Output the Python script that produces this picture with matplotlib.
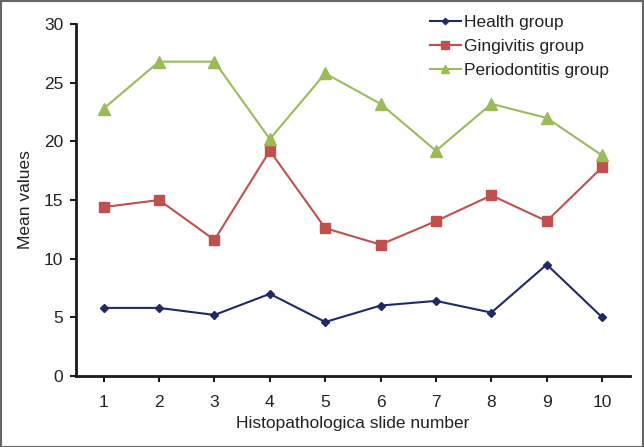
import matplotlib
matplotlib.use("Agg")
import matplotlib.pyplot as plt
from matplotlib.patches import Rectangle

plt.rcParams['font.family'] = ['Liberation Sans', 'DejaVu Sans']

slides = [1, 2, 3, 4, 5, 6, 7, 8, 9, 10]
health = [5.8, 5.8, 5.2, 7.0, 4.6, 6.0, 6.4, 5.4, 9.5, 5.0]
gingivitis = [14.4, 15.0, 11.6, 19.2, 12.6, 11.2, 13.2, 15.4, 13.2, 17.8]
periodontitis = [22.8, 26.8, 26.8, 20.2, 25.8, 23.2, 19.2, 23.2, 22.0, 18.8]
series_names = ["Health group", "Gingivitis group", "Periodontitis group"]
y_ticks = [0, 5, 10, 15, 20, 25, 30]

fig = plt.figure(figsize=(6.44, 4.47), dpi=100)
ax = fig.add_axes([0.118, 0.159, 0.860, 0.787])

ax.plot(slides, health, color='#1F2A66', marker='D', markersize=4, lw=1.5, label=series_names[0])
ax.plot(slides, gingivitis, color='#C0504D', marker='s', markersize=7, lw=1.5, label=series_names[1])
ax.plot(slides, periodontitis, color='#9BBB59', marker='^', markersize=8, lw=1.5, label=series_names[2])

ax.set_xlim(0.5, 10.5)
ax.set_ylim(0, 30)
ax.set_xticks(slides)
ax.set_yticks(y_ticks)
for s in ['top', 'right']:
    ax.spines[s].set_visible(False)
for s in ['left', 'bottom']:
    ax.spines[s].set_linewidth(2)
    ax.spines[s].set_color('#1a1a1a')
ax.tick_params(axis='both', direction='out', length=4, width=1.5, labelsize=12.5,
               colors='#1a1a1a', labelcolor='#222222', pad=5)
ax.tick_params(axis='x', pad=10)
ax.set_xlabel("Histopathologica slide number", fontsize=12.5, color='#222222', labelpad=4)
ax.set_ylabel("Mean values", fontsize=12.5, color='#222222', labelpad=8)

leg = ax.legend(loc='upper right', bbox_to_anchor=(0.975, 1.045), frameon=False, fontsize=12.5,
                handlelength=1.75, handletextpad=0.2, labelspacing=0.5, borderaxespad=0)
for line in leg.get_lines():
    line.set_markersize(line.get_markersize() * 0.8)
for t in leg.get_texts():
    t.set_color('#222222')

fig.patches.append(Rectangle((0.001, 0.001), 0.997, 0.997, transform=fig.transFigure,
                             fill=False, edgecolor='#666666', lw=1.5))

fig.savefig("out.png", dpi=100)
